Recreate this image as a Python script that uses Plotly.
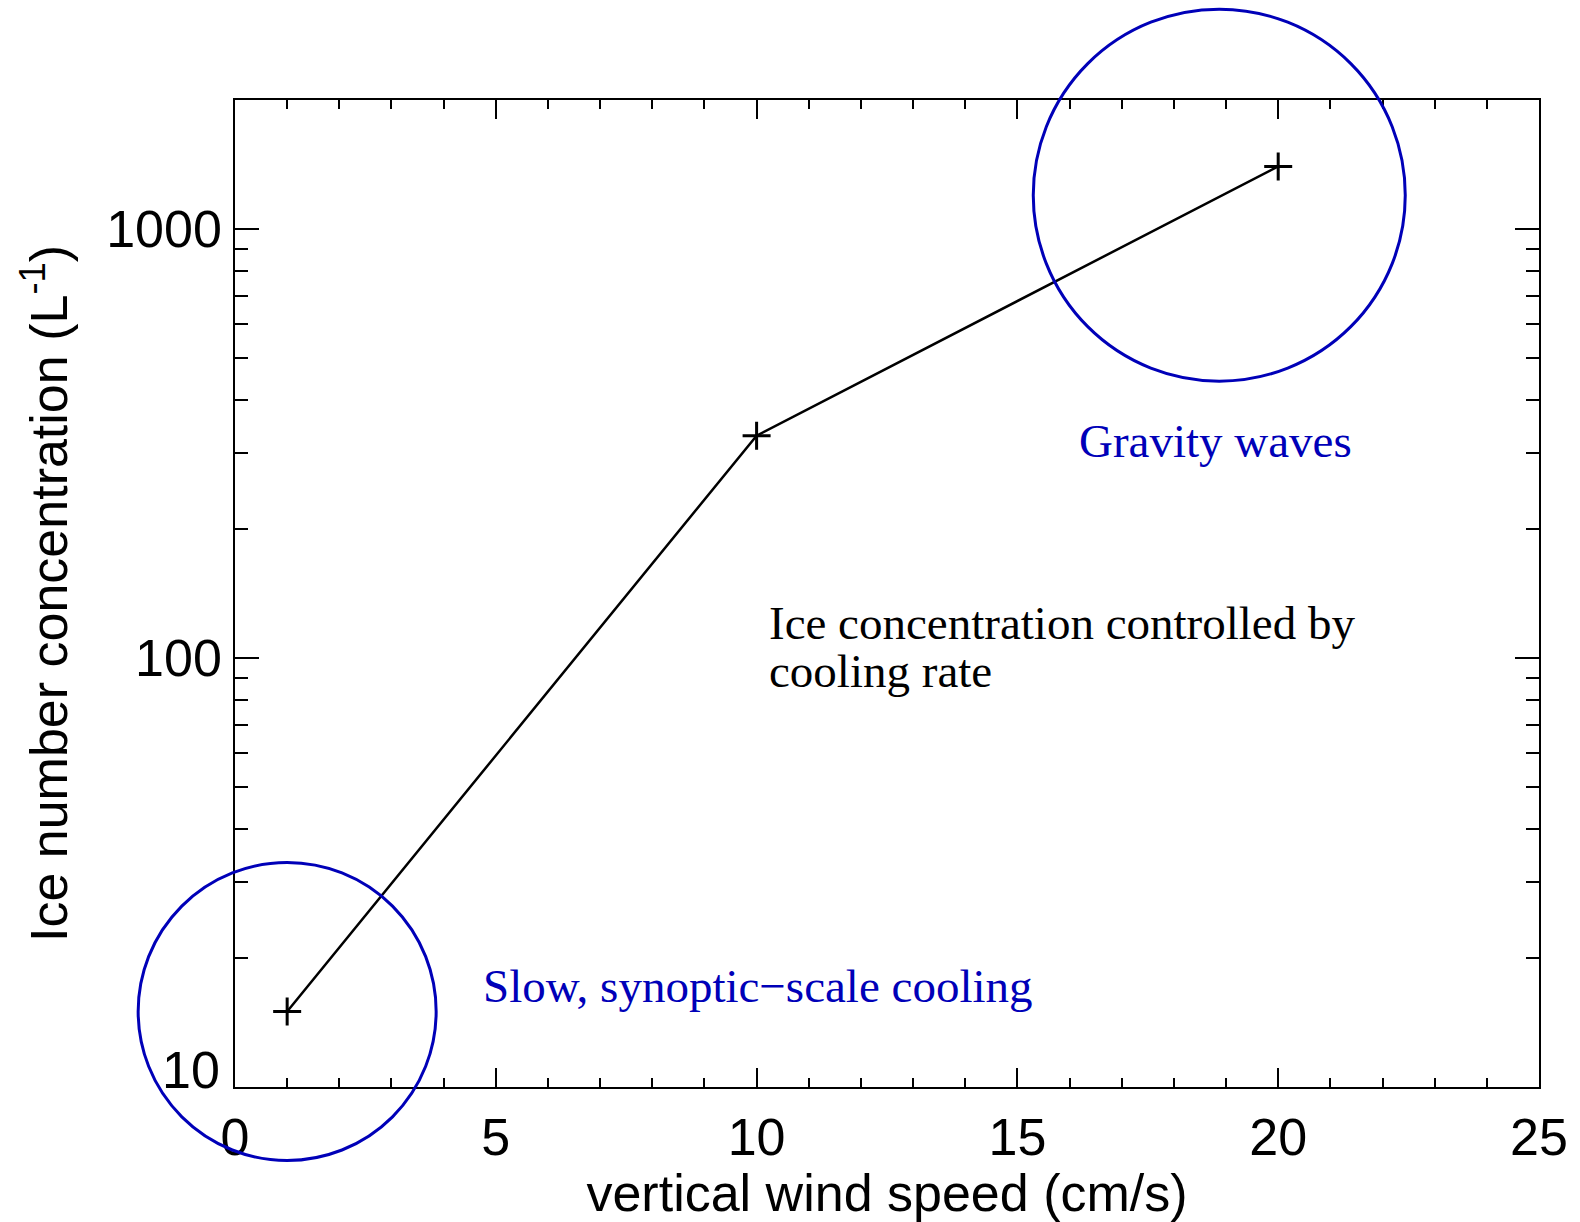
import math
import plotly.graph_objects as go

# Data
wind_speed = [1, 10, 20]                 # cm/s
ice_conc = [15, 330, 1400]               # L^-1
x_ticks = [0, 5, 10, 15, 20, 25]
y_ticks = [10, 100, 1000]
y_tick_text = ["", "100", "1000"]        # "10" drawn raised (see below), as in the original
low_label = "10"

# Circle annotations (centers in data units, radii in pixels)
circle_x = [1, 18.87]
circle_y = [15, 1200]
circle_r = [149, 186]

# Text annotations
label_texts = ["Gravity waves", "Slow, synoptic\u2212scale cooling",
               "Ice concentration controlled by", "cooling rate"]
label_x = [18.80, 10.03, 10.2, 10.2]
label_y = [321, 17.2, 121, 93.5]
label_colors = ["#0000b8", "#0000b8", "black", "black"]
label_anchor = ["center", "center", "left", "left"]

x_range = [0, 25]
y_range = [1, math.log10(2000)]

BLUE = "#0000b8"
SANS = "Liberation Sans, Arial, sans-serif"
SERIF = "Liberation Serif, Times New Roman, serif"

fig = go.Figure()
fig.add_trace(go.Scatter(
    x=wind_speed, y=ice_conc, mode="lines+markers",
    line=dict(color="black", width=2.5),
    marker=dict(symbol="cross-thin", size=20, line=dict(color="black", width=3)),
    showlegend=False, cliponaxis=False,
))

def to_px(v):
    return (v - x_range[0]) / (x_range[1] - x_range[0])

def to_py(v):
    return (math.log10(v) - y_range[0]) / (y_range[1] - y_range[0])

shapes = []
for cx, cy, r in zip(circle_x, circle_y, circle_r):
    shapes.append(dict(
        type="circle", xref="paper", yref="paper",
        xsizemode="pixel", ysizemode="pixel",
        xanchor=to_px(cx), yanchor=to_py(cy),
        x0=-r, x1=r, y0=-r, y1=r,
        line=dict(color=BLUE, width=3), layer="above",
    ))

annotations = []
for t, x, y, c, a in zip(label_texts, label_x, label_y, label_colors, label_anchor):
    annotations.append(dict(
        text=t, x=x, y=math.log10(y), xref="x", yref="y",
        xanchor=a, yanchor="middle", align="left", showarrow=False,
        font=dict(family=SERIF, size=47, color=c),
    ))
# raised lowest y tick label
annotations.append(dict(
    text=low_label, x=0, y=math.log10(y_ticks[0]), xref="paper", yref="y",
    xanchor="right", yanchor="middle", xshift=-13, yshift=17, showarrow=False,
    font=dict(family=SANS, size=52, color="black"),
))

fig.update_layout(
    width=1580, height=1222,
    margin=dict(l=235, r=36, t=100, b=135),
    paper_bgcolor="white", plot_bgcolor="white",
    font=dict(family=SANS, size=52, color="black"),
    shapes=shapes, annotations=annotations, showlegend=False,
)
fig.update_xaxes(
    range=x_range, tickvals=x_ticks, ticks="inside", ticklen=19, tickwidth=1.5,
    tickcolor="black", showline=True, linecolor="black", linewidth=1.5,
    mirror="ticks", showgrid=False, zeroline=False,
    tickfont=dict(size=52), ticklabelstandoff=4,
    minor=dict(dtick=1, ticks="inside", ticklen=9, tickwidth=1.5, tickcolor="black", showgrid=False),
    title=dict(text="vertical wind speed (cm/s)", font=dict(size=52), standoff=6),
)
fig.update_yaxes(
    type="log", range=y_range, tickvals=y_ticks, ticktext=y_tick_text,
    ticks="inside", ticklen=24, tickwidth=1.5,
    tickcolor="black", showline=True, linecolor="black", linewidth=1.5,
    mirror="ticks", showgrid=False, zeroline=False,
    tickfont=dict(size=52), ticklabelstandoff=1,
    minor=dict(dtick="D1", ticks="inside", ticklen=13, tickwidth=1.5, tickcolor="black", showgrid=False),
    title=dict(text="Ice number concentration (L<sup>-1</sup>)", font=dict(size=52), standoff=22),
)

fig.write_html("out.html")
